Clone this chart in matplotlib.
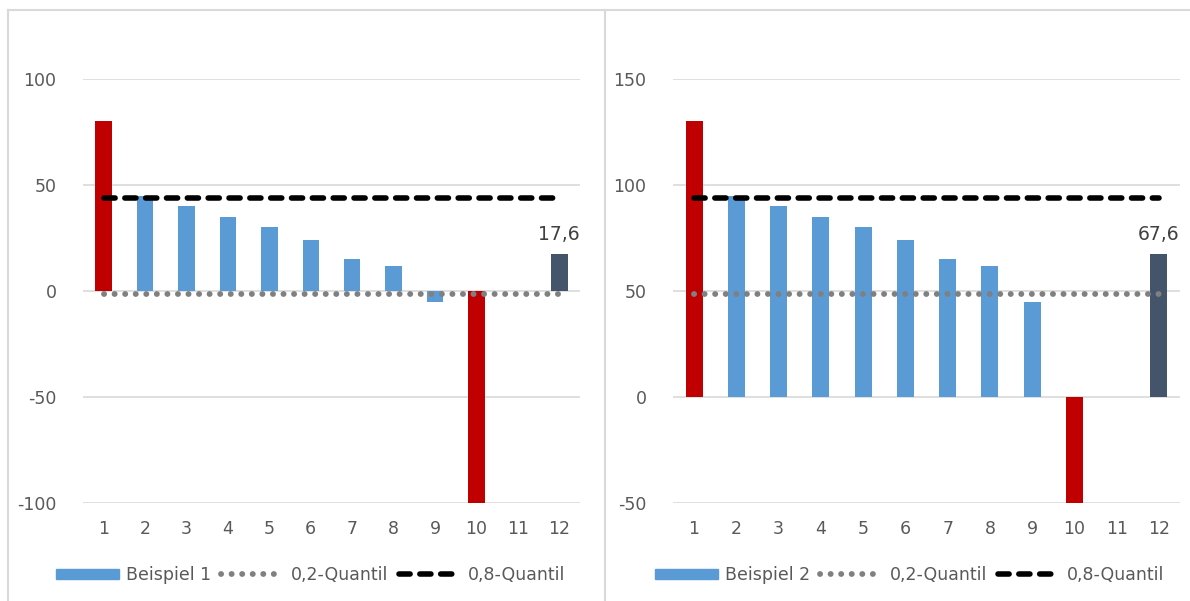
import numpy as np
import matplotlib.pyplot as plt
from matplotlib.lines import Line2D
from matplotlib.patches import Patch

plt.rcParams['font.family'] = ['DejaVu Sans']
plt.rcParams['lines.scale_dashes'] = False
plt.rcParams['axes.unicode_minus'] = False

# Data
categories = [str(i) for i in range(1, 13)]
werte_1 = [80, 45, 40, 35, 30, 24, 15, 12, -5, -100, np.nan, 17.6]
werte_2 = [130, 95, 90, 85, 80, 74, 65, 62, 45, -50, np.nan, 67.6]
quantil_02 = [-1.6, 48.4]
quantil_08 = [44, 94]
namen = ['Beispiel 1', 'Beispiel 2']
ylims = [(-100, 100), (-50, 150)]

# Colors: outliers red, mean dark, rest blue
blau = '#5B9BD5'
rot = '#C00000'
dunkel = '#44546A'
bar_colors = [rot, blau, blau, blau, blau, blau, blau, blau, blau, rot, blau, dunkel]
text_col = '#595959'
grid_col = '#D9D9D9'

W, H = 1190, 601
fig = plt.figure(figsize=(W / 100, H / 100), dpi=100)
axes = [fig.add_axes([83 / W, 98 / H, 497 / W, 424 / H]),
        fig.add_axes([673 / W, 98 / H, 507 / W, 424 / H])]
legend_x = [311 / W, 910 / W]

dot_style = dict(color='#808080', lw=4.2, dashes=(0.1, 7.5), dash_capstyle='round')
dash_style = dict(color='black', lw=4.0, dashes=(8, 7), dash_capstyle='round')

for i, ax in enumerate(axes):
    werte = [werte_1, werte_2][i]
    x = np.arange(len(categories))
    ax.bar(x, werte, width=0.4, color=bar_colors, zorder=2)

    ax.plot(x, [quantil_02[i]] * len(x), zorder=3, **dot_style)
    ax.plot(x, [quantil_08[i]] * len(x), zorder=3, **dash_style)

    # value label on the last bar
    v = werte[-1]
    ax.annotate(f"{v:.1f}".replace('.', ','), (x[-1], v), xytext=(0, 10),
                textcoords='offset points', ha='center', va='baseline',
                fontsize=13.5, color='#404040')

    ax.set_xlim(-0.5, len(x) - 0.5)
    ax.set_ylim(*ylims[i])
    ax.set_yticks(np.arange(ylims[i][0], ylims[i][1] + 1, 50))
    ax.set_xticks(x)
    ax.set_xticklabels(categories)
    ax.tick_params(length=0, labelsize=12.5, labelcolor=text_col)
    ax.tick_params(axis='y', pad=19)
    ax.tick_params(axis='x', pad=12)
    ax.grid(axis='y', color=grid_col, lw=1.2, zorder=0)
    ax.set_axisbelow(True)
    for s in ax.spines.values():
        s.set_visible(False)

    handles = [Patch(color=blau),
               Line2D([], [], **dot_style),
               Line2D([], [], **dash_style)]
    fig.legend(handles, [namen[i], '0,2-Quantil', '0,8-Quantil'], ncol=3,
               loc='center', bbox_to_anchor=(legend_x[i], 1 - 575 / H),
               frameon=False, fontsize=12.5, labelcolor=text_col,
               handlelength=3.6, handleheight=0.55, handletextpad=0.4,
               columnspacing=0.6)

# panel frames
for xs, ys in [([8 / W, 1], [1 - 10 / H, 1 - 10 / H]),
               ([8 / W, 8 / W], [0, 1 - 10 / H]),
               ([605 / W, 605 / W], [0, 1 - 10 / H])]:
    fig.add_artist(Line2D(xs, ys, color=grid_col, lw=1.5))

fig.savefig('out.png', dpi=100)
